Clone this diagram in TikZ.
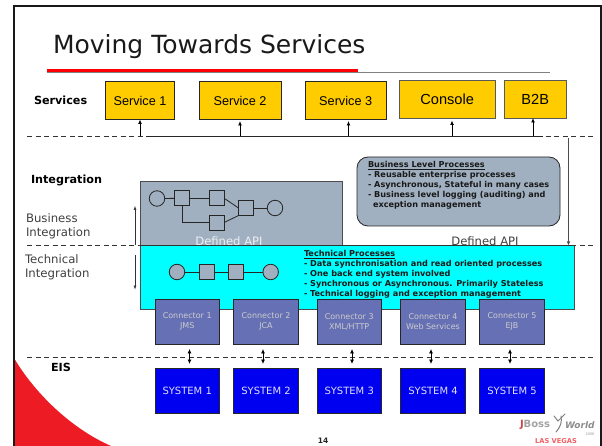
\documentclass[tikz,border=0pt]{standalone}
\usepackage{fontspec}
\setmainfont{DejaVu Sans}
\newfontfamily\arialf{Liberation Sans}
\usetikzlibrary{arrows.meta}
\definecolor{svc}{HTML}{FFCC00}
\definecolor{slate}{HTML}{A0B0C0}
\definecolor{conn}{HTML}{6670B4}
\definecolor{sysb}{HTML}{0000F0}
\definecolor{swoosh}{HTML}{ED1C24}
\definecolor{cyanb}{HTML}{00FFFF}
\tikzset{
  x=1pt,y=-1pt,
  every node/.style={inner sep=0pt,outer sep=0pt},
  svcbox/.style={draw=black!85,line width=0.9pt,fill=svc,font=\arialf\fontsize{12.7}{14}\selectfont},
  connbox/.style={draw=black!85,line width=0.8pt,fill=conn,text=black!20!white,font=\fontsize{8}{10}\selectfont,align=center,minimum width=64.5pt,minimum height=44.5pt},
  sysbox/.style={draw=black!85,line width=0.7pt,fill=sysb,text=white!88!blue,font=\fontsize{10}{12}\selectfont,minimum width=64.5pt,minimum height=45pt},
  sideh/.style={font=\bfseries\fontsize{11.2}{13}\selectfont,anchor=west},
  sidet/.style={font=\fontsize{11.7}{14}\selectfont,align=left,anchor=west,text=black!75},
  sep/.style={dash pattern=on 5pt off 3.5pt,line width=0.9pt,draw=black!80},
  upar/.style={-{Latex[length=4.5pt,width=4pt]},line width=0.9pt},
  dblar/.style={{Latex[length=4.5pt,width=4pt]}-{Latex[length=4.5pt,width=4pt]},line width=0.8pt,shorten <=5pt,shorten >=4pt},
  sidear/.style={-{Latex[length=4pt,width=3pt]},line width=0.5pt,draw=black!80},
  flowc/.style={circle,draw=black!85,line width=0.8pt,fill=slate,minimum size=15.5pt},
  flows/.style={rectangle,draw=black!85,line width=0.8pt,fill=slate,minimum width=15pt,minimum height=15pt},
  flowl/.style={line width=0.8pt,draw=black!85},
  proc/.style={font=\bfseries\fontsize{8.15}{10}\selectfont,align=left,anchor=north west,text=black!90},
}
\begin{document}
\begin{tikzpicture}
\useasboundingbox (0,0) rectangle (602,446);
\fill[white] (0,0) rectangle (602,446);
% frame
\fill[swoosh] (14,358) .. controls (34,392) and (70,428) .. (111,446) -- (14,446) -- cycle;
\draw[line width=2pt,black!90] (13.5,446) -- (13.5,6.5) -- (600.5,6.5) -- (600.5,446);
% title
\node[anchor=base west,font=\fontsize{25}{28}\selectfont,text=black!90] (title) at (53,54) {Moving Towards Services};
\coordinate (ruleL) at (47,72.3);
\coordinate (ruleR) at (550,72.3);
\draw[black!50,line width=0.7pt] (ruleL) -- (ruleR);
\fill[red] (47,69) rectangle (358,72);
% left labels
\node[sideh] (lsvc) at (34,100) {Services};
\node[sideh] (lint) at (31,180) {Integration};
\node[sidet] (lbus) at (26,226) {Business\\Integration};
\node[sidet] (ltec) at (25,267) {Technical\\Integration};
\node[sideh] (leis) at (51,367) {EIS};
% services
\node[svcbox,minimum width=69pt,minimum height=38pt] (s1) at (140,100.5) {Service 1};
\node[svcbox,minimum width=82pt,minimum height=38pt] (s2) at (240,100.5) {Service 2};
\node[svcbox,minimum width=81.5pt,minimum height=38pt] (s3) at (345.7,100.5) {Service 3};
\node[svcbox,minimum width=95.5pt,minimum height=38pt,draw=black!65,font=\arialf\fontsize{14.6}{16}\selectfont] (s4) at (447.2,99) {Console};
\node[svcbox,minimum width=61.5pt,minimum height=38pt,draw=black!65,font=\arialf\fontsize{14.6}{16}\selectfont] (s5) at (535.2,99) {B2B};
% dashed separators
\coordinate (d1a) at (27,136); \coordinate (d1b) at (593,136);
\coordinate (d2a) at (27,245); \coordinate (d2b) at (593,245);
\coordinate (d3a) at (27,357); \coordinate (d3b) at (593,357);
\draw[sep] (d1a) -- (d1b);
\coordinate (bus1) at (146,136.4); \coordinate (bus2) at (543,136.4);
\draw[line width=1pt,black!85] (bus1) -- (bus2);
\coordinate (a1) at (140,136.5); \coordinate (a2) at (240,136.5); \coordinate (a3) at (348.5,136.5);
\coordinate (a4) at (452,136.5); \coordinate (a5) at (533,136.5);
\draw[upar] (a1) -- (a1 |- s1.south);
\draw[upar] (a2) -- ([yshift=-1.5pt]a2 |- s2.south);
\draw[upar] (a3) -- ([yshift=-1.5pt]a3 |- s3.south);
\draw[upar] (a4) -- ([yshift=-2.5pt]a4 |- s4.south);
\draw[upar] (a5) -- (a5 |- s5.south);
% business box
\node[draw=black!70,line width=0.8pt,fill=slate,minimum width=202pt,minimum height=64pt,anchor=north west] (biz) at (140,181) {};
\node[font=\fontsize{11.6}{13}\selectfont,text=white!80!slate] (api1) at (229,241) {Defined API};
\node[draw=black!85,line width=0.8pt,fill=slate,rounded corners=11pt,minimum width=203pt,minimum height=69pt,anchor=north west] (bl) at (357,157) {};
\node[proc] (bltext) at (368,161) {\underline{Business Level Processes}\\
- Reusable enterprise processes\\
- Asynchronous, Stateful in many cases\\
- Business level logging (auditing) and\\
\hspace*{5pt}exception management};
\node[font=\fontsize{11.6}{13}\selectfont,text=black!75] (api2) at (485,241) {Defined API};
% right feed
\coordinate (rf) at (568.5,138);
% cyan box
\node[draw=black!70,line width=0.8pt,fill=cyanb,minimum width=434pt,minimum height=64pt,anchor=north west] (tech) at (140,245) {};
\draw[sep] (d2a) -- (d2b);
\coordinate (rfe) at (568.5,245.5);
\draw[line width=0.8pt,black!70,-{Latex[length=4pt,width=3.5pt]}] (rf) -- (rfe);
\coordinate (ba) at (140,245.3); \coordinate (bb) at (574,245.3);
\draw[line width=0.7pt,black!80] (ba) -- (bb);
\node[proc] (ttext) at (304,250) {\underline{Technical Processes}\\
- Data synchronisation and read oriented processes\\
- One back end system involved\\
- Synchronous or Asynchronous. Primarily Stateless\\
- Technical logging and exception management};
% side arrows
\coordinate (u1) at (135,245); \coordinate (u2) at (135,206);
\coordinate (v1) at (135,255); \coordinate (v2) at (135,289.5);
\draw[sidear] (u1) -- (u2);
\draw[sidear] (v1) -- (v2);
% business flow
\node[flowc] (f1) at (157,198.5) {};
\node[flows] (f2) at (182,198.3) {};
\node[flows] (f3) at (216.7,198.3) {};
\node[flows] (f4) at (216.7,222.5) {};
\node[flows] (f5) at (246,208) {};
\node[flowc] (f6) at (275,208) {};
\draw[flowl] (f1) -- (f2);
\draw[flowl] (f2) -- (f3);
\draw[flowl] (f2.south) |- (f4.west);
\draw[flowl] (f3.east) -- (f5.west);
\draw[flowl] (f4.east) -- (f5.south west);
\draw[flowl] (f5) -- (f6);
% technical flow
\node[flowc] (t1) at (177,272) {};
\node[flows] (t2) at (206.7,272) {};
\node[flows] (t3) at (236,272) {};
\node[flowc] (t4) at (270.7,272) {};
\draw[flowl] (t1) -- (t2);
\draw[flowl] (t2) -- (t3);
\draw[flowl] (t3) -- (t4);
% connectors and systems
\draw[sep] (d3a) -- (d3b);
\node[connbox] (c1) at (187.2,321.7) {Connector 1\\JMS};
\node[connbox] (c2) at (266,321.7) {Connector 2\\JCA};
\node[connbox] (c3) at (349.2,321.7) {Connector 3\\XML/HTTP};
\node[connbox] (c4) at (433,321.7) {Connector 4\\Web Services};
\node[connbox] (c5) at (512,321.7) {Connector 5\\EJB};
\node[sysbox] (y1) at (187.2,390.5) {SYSTEM 1};
\node[sysbox] (y2) at (266,390.5) {SYSTEM 2};
\node[sysbox] (y3) at (349.2,390.5) {SYSTEM 3};
\node[sysbox] (y4) at (433,390.5) {SYSTEM 4};
\node[sysbox] (y5) at (512,390.5) {SYSTEM 5};
\draw[dblar] ([xshift=2.3pt]c1.south) -- ([xshift=2.3pt]y1.north);
\draw[dblar] ([xshift=-3pt]c2.south) -- ([xshift=-3pt]y2.north);
\draw[dblar] ([xshift=2.8pt]c3.south) -- ([xshift=2.8pt]y3.north);
\draw[dblar] ([xshift=-2pt]c4.south) -- ([xshift=-2pt]y4.north);
\draw[dblar] ([xshift=-2pt]c5.south) -- ([xshift=-2pt]y5.north);
% footer
\node[font=\bfseries\fontsize{7.5}{9}\selectfont,text=black!85] (pg) at (323,441) {14};
% logo
\node[anchor=west,font=\bfseries\fontsize{10}{11}\selectfont,text=swoosh!80!black,opacity=.8] (lj) at (520,425) {J\textcolor{black!45}{Boss}};
\node[anchor=west,font=\bfseries\itshape\fontsize{9}{10}\selectfont,text=black!45] (lw) at (565,425) {World};
\draw[black!50,line width=1pt,line cap=round] (561,416) .. controls (562,422) and (561,426) .. (556,432);
\draw[black!50,line width=1pt,line cap=round] (554,416) -- (558,421) -- (565,414);
\node[font=\fontsize{3.5}{4}\selectfont,text=black!40] (ly) at (590,434) {2006};
\node[font=\bfseries\fontsize{6.7}{8}\selectfont,text=swoosh!70] (lv) at (556,441) {LAS VEGAS};
\end{tikzpicture}
\end{document}
